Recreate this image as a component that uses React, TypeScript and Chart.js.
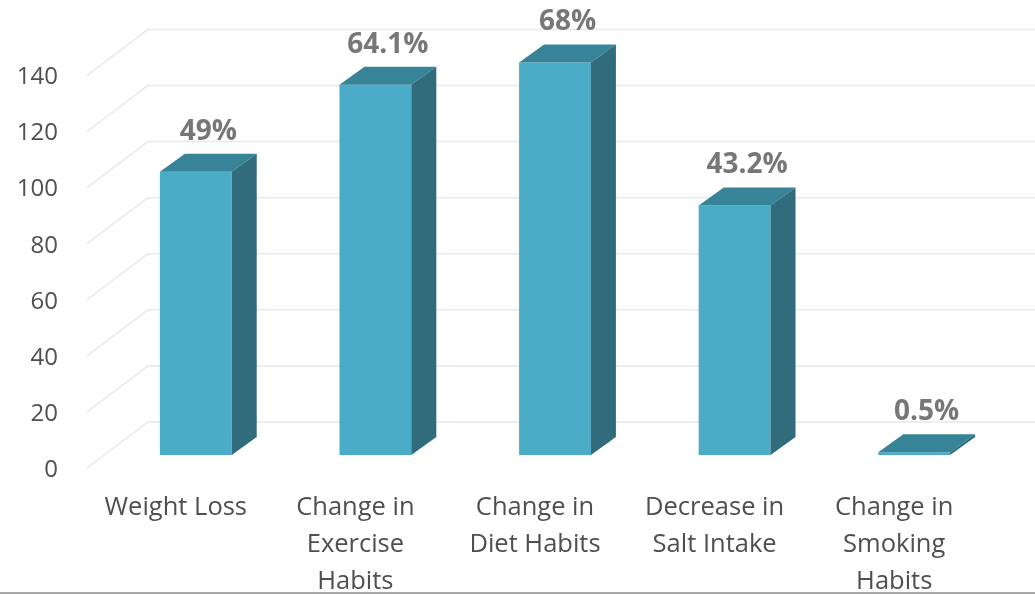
import React, { useEffect, useRef } from "react";
import { Chart, registerables } from "chart.js";

Chart.register(...registerables);

const categories: string[][] = [
  ["Weight Loss"],
  ["Change in", "Exercise", "Habits"],
  ["Change in", "Diet Habits"],
  ["Decrease in", "Salt Intake"],
  ["Change in", "Smoking", "Habits"],
];
const counts: number[] = [101, 132, 140, 89, 1];
const pctLabels: string[] = ["49%", "64.1%", "68%", "43.2%", "0.5%"];
const yMin = 0;
const yMax = 140;
const yStep = 20;

const FRONT = "#4AACC6";
const TOP = "#378398";
const SIDE = "#306C7B";
const DX = 25;
const DY = -18;

const depthPlugin = {
  id: "depth3d",
  beforeDatasetsDraw(chart: any) {
    const { ctx, chartArea, scales } = chart;
    const ys = scales.y;
    ctx.save();
    ctx.strokeStyle = "#e8e8e8";
    ctx.lineWidth = 1.5;
    ys.ticks.forEach((t: any) => {
      const yv = ys.getPixelForValue(t.value);
      const fx = chartArea.left - 19;
      const fy = yv + 13;
      const bx = fx + 61;
      const by = yv - 33;
      ctx.beginPath();
      ctx.moveTo(fx, fy);
      ctx.lineTo(bx, by);
      ctx.lineTo(chart.width, by);
      ctx.stroke();
    });
    ctx.restore();
  },
  afterDatasetsDraw(chart: any) {
    const { ctx } = chart;
    const meta = chart.getDatasetMeta(0);
    ctx.save();
    meta.data.forEach((bar: any, i: number) => {
      const { x, y, base, width } = bar.getProps(["x", "y", "base", "width"], true);
      const l = x - width / 2;
      const r = x + width / 2;
      ctx.fillStyle = TOP;
      ctx.beginPath();
      ctx.moveTo(l, y);
      ctx.lineTo(l + DX, y + DY);
      ctx.lineTo(r + DX, y + DY);
      ctx.lineTo(r, y);
      ctx.closePath();
      ctx.fill();
      ctx.fillStyle = SIDE;
      ctx.beginPath();
      ctx.moveTo(r, y);
      ctx.lineTo(r + DX, y + DY);
      ctx.lineTo(r + DX, base + DY);
      ctx.lineTo(r, base);
      ctx.closePath();
      ctx.fill();
      ctx.fillStyle = "#777777";
      ctx.font = "bold 28px 'Open Sans'";
      ctx.textAlign = "center";
      ctx.textBaseline = "alphabetic";
      ctx.fillText(pctLabels[i], x + DX / 2, y + DY - 14);
    });
    ctx.restore();
  },
  afterDraw(chart: any) {
    const { ctx } = chart;
    ctx.save();
    ctx.fillStyle = "#a8a8a8";
    ctx.fillRect(0, 592, chart.width, 2);
    ctx.restore();
  },
};

export default function App() {
  const ref = useRef<HTMLCanvasElement>(null);
  useEffect(() => {
    if (!ref.current) return;
    const chart = new Chart(ref.current, {
      type: "bar",
      data: {
        labels: categories,
        datasets: [
          {
            data: counts,
            backgroundColor: FRONT,
            borderWidth: 0,
            categoryPercentage: 1,
            barPercentage: 0.4,
            clip: false as any,
          },
        ],
      },
      options: {
        responsive: false,
        animation: false,
        layout: { padding: { top: 58, right: 31, left: 0, bottom: 0 } },
        plugins: { legend: { display: false }, tooltip: { enabled: false } },
        scales: {
          x: {
            grid: { display: false, drawTicks: false },
            border: { display: false },
            ticks: {
              color: "#4f4f4f",
              font: { family: "'Open Sans'", size: 25.5, lineHeight: 1.45 },
              labelOffset: -20,
              padding: 34,
              maxRotation: 0,
              autoSkip: false,
            },
            afterFit(scale: any) {
              scale.height = 140;
            },
          },
          y: {
            min: yMin,
            max: yMax,
            grid: { display: false, drawTicks: false },
            border: { display: false },
            ticks: {
              stepSize: yStep,
              color: "#4f4f4f",
              font: { family: "'Open Sans'", size: 24 },
              labelOffset: 15,
              padding: 48,
            },
            afterFit(scale: any) {
              scale.width = 106;
            },
          },
        },
      },
      plugins: [depthPlugin],
    });
    return () => chart.destroy();
  }, []);
  return (
    <div style={{ position: "fixed", left: 0, top: 0, width: 1035, height: 595, background: "#fff" }}>
      <canvas ref={ref} width={1035} height={595} />
    </div>
  );
}
